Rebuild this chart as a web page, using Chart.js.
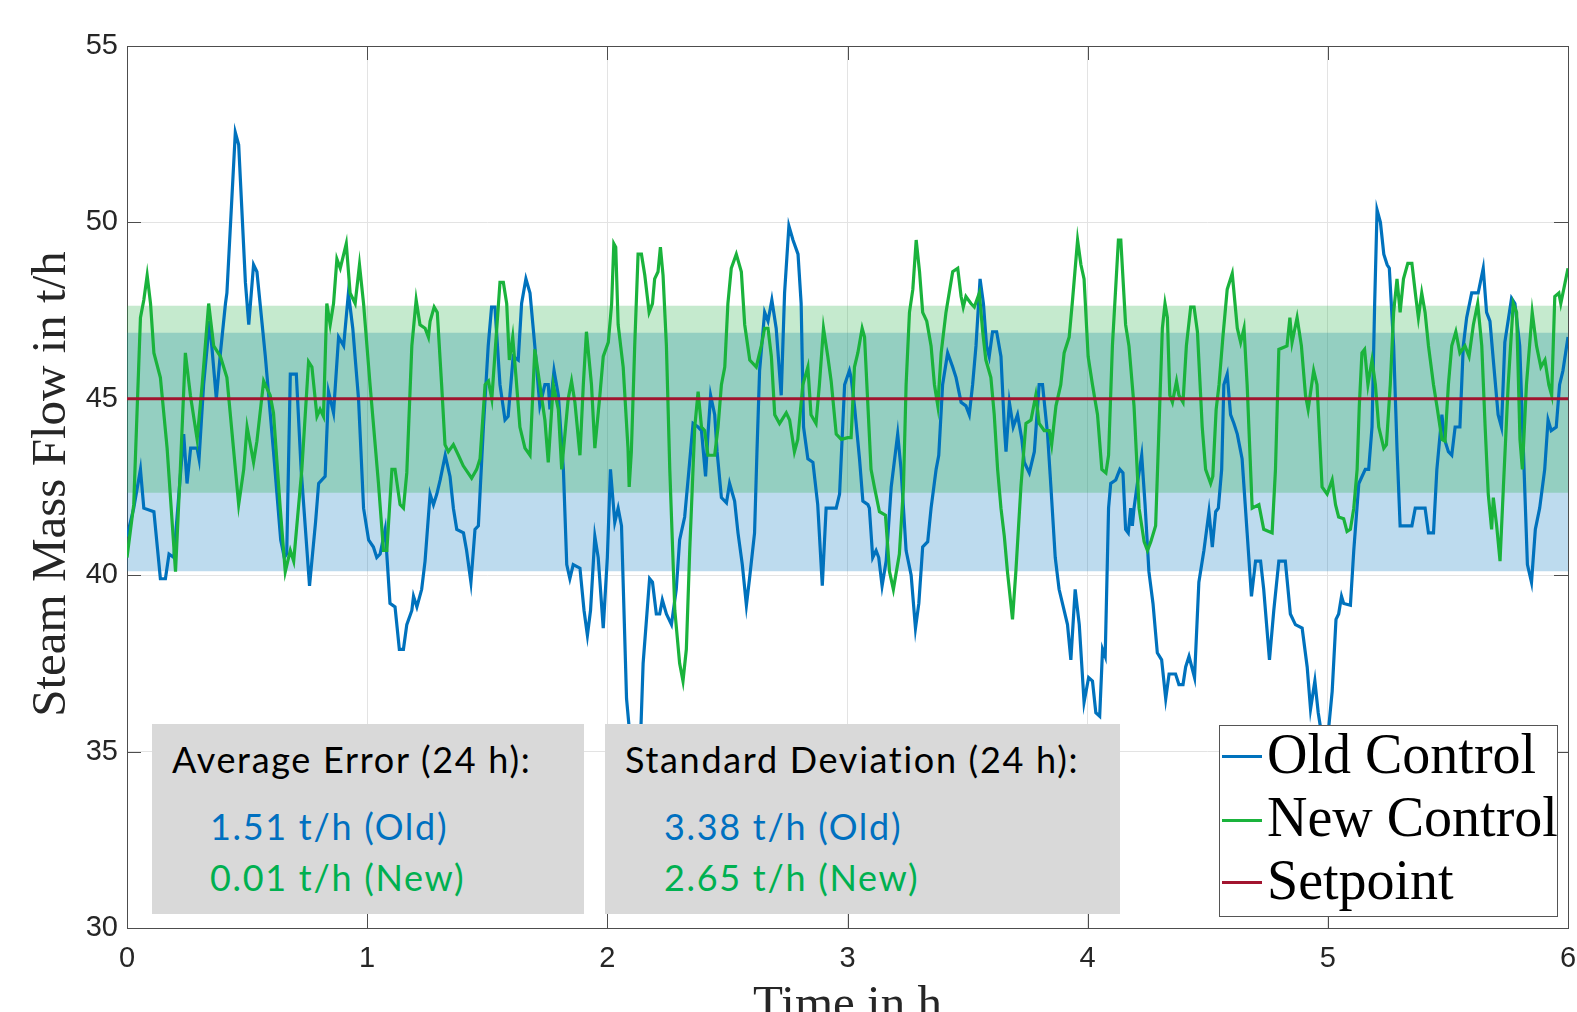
<!DOCTYPE html>
<html>
<head>
<meta charset="utf-8">
<title>Steam Mass Flow</title>
<script src="https://cdn.jsdelivr.net/npm/chart.js@4.4.1/dist/chart.umd.min.js"></script>
<style>
  html, body { margin: 0; padding: 0; background: #fff; overflow: hidden; }
  #wrap { position: relative; width: 1577px; height: 1012px; }
  .statbox { position: absolute; background: #d9d9d9; font-family: Lato, sans-serif; font-size: 36px; letter-spacing: 1.7px; }
  .statbox div { position: absolute; white-space: nowrap; line-height: 43px; }
  #legend { position: absolute; left: 1219px; top: 725px; width: 339px; height: 192px; box-sizing: border-box;
            border: 1px solid #555; background: #fff; font-family: "Liberation Serif", serif; font-size: 56px; color: #000; }
  #legend .txt { position: absolute; left: 47px; line-height: 62px; white-space: nowrap; }
  #legend .swatch { position: absolute; left: 2px; width: 40px; height: 3px; }
</style>
</head>
<body>
<div id="wrap">
  <canvas id="chart"></canvas>

  <div class="statbox" style="left:152px; top:724px; width:432px; height:190px;">
    <div style="left:20px; top:14px; color:#000;">Average Error (24 h):</div>
    <div style="left:58px; top:81px; color:#0070C0;">1.51 t/h (Old)</div>
    <div style="left:58px; top:132px; color:#00B050;">0.01 t/h (New)</div>
  </div>
  <div class="statbox" style="left:605px; top:724px; width:515px; height:190px;">
    <div style="left:20px; top:14px; color:#000;">Standard Deviation (24 h):</div>
    <div style="left:59px; top:81px; color:#0070C0;">3.38 t/h (Old)</div>
    <div style="left:59px; top:132px; color:#00B050;">2.65 t/h (New)</div>
  </div>

  <div id="legend">
    <div class="swatch" style="top:29px; background:#0072BD;"></div>
    <div class="txt" style="top:-3px;">Old Control</div>
    <div class="swatch" style="top:93px; background:#1AB33C;"></div>
    <div class="txt" style="top:60px;">New Control</div>
    <div class="swatch" style="top:155px; background:#A2142F;"></div>
    <div class="txt" style="top:123px;">Setpoint</div>
  </div>
</div>

<script>
// time in h, steam mass flow in t/h
const oldControl = [
  [0,41.1],[0.028,41.9],[0.056,43.0],[0.07,41.9],[0.112,41.8],[0.139,39.9],[0.16,39.9],[0.175,40.6],[0.195,40.5],
  [0.236,44.0],[0.25,42.6],[0.265,43.6],[0.292,43.6],[0.3,43.3],[0.319,45.4],[0.344,47.2],[0.372,45.0],[0.389,46.3],
  [0.41,47.7],[0.416,48.0],[0.451,52.55],[0.465,52.2],[0.493,48.3],[0.507,47.1],[0.527,48.8],[0.541,48.6],[0.576,46.2],
  [0.61,43.5],[0.64,41.0],[0.655,40.5],[0.665,40.6],[0.68,45.7],[0.705,45.7],[0.725,43.0],[0.76,39.7],[0.785,41.5],
  [0.798,42.6],[0.825,42.8],[0.839,45.2],[0.86,44.6],[0.881,46.75],[0.902,46.5],[0.922,48.0],[0.94,47.0],[0.964,45.0],
  [0.985,41.9],[1.006,41.0],[1.026,40.8],[1.04,40.5],[1.054,40.6],[1.075,41.3],[1.095,39.2],[1.116,39.1],[1.134,37.9],
  [1.151,37.9],[1.165,38.6],[1.186,39.0],[1.193,39.4],[1.207,39.1],[1.227,39.6],[1.241,40.4],[1.262,42.3],[1.276,42.0],
  [1.29,42.3],[1.304,42.7],[1.325,43.4],[1.345,42.8],[1.359,41.9],[1.373,41.3],[1.401,41.2],[1.414,40.7],[1.432,39.8],
  [1.449,41.3],[1.463,41.4],[1.484,44.2],[1.504,46.5],[1.518,47.6],[1.532,47.6],[1.553,45.4],[1.574,44.4],[1.587,44.5],
  [1.608,46.2],[1.629,46.1],[1.643,47.7],[1.661,48.4],[1.678,48.0],[1.698,46.5],[1.719,44.8],[1.74,45.4],[1.754,45.4],
  [1.761,44.7],[1.778,45.8],[1.796,45.1],[1.817,43.0],[1.831,40.3],[1.844,39.9],[1.858,40.3],[1.886,40.2],[1.903,39.0],
  [1.917,38.3],[1.93,39.0],[1.948,41.1],[1.962,40.5],[1.983,38.5],[2.0,40.5],[2.013,43.0],[2.031,41.5],[2.045,41.9],
  [2.059,41.4],[2.08,36.5],[2.1,35.0],[2.121,34.8],[2.14,35.7],[2.149,37.5],[2.176,39.9],[2.188,39.8],[2.204,38.9],
  [2.218,38.9],[2.229,39.3],[2.246,38.9],[2.267,38.6],[2.287,39.6],[2.301,41.0],[2.322,41.65],[2.34,43.0],[2.357,44.3],
  [2.378,44.2],[2.392,44.1],[2.409,42.8],[2.419,44.0],[2.43,45.1],[2.447,44.55],[2.457,43.5],[2.475,42.2],[2.496,42.05],
  [2.509,42.6],[2.53,42.1],[2.544,41.2],[2.562,40.3],[2.579,39.15],[2.592,39.9],[2.613,41.2],[2.623,43.5],[2.634,45.8],
  [2.655,47.45],[2.669,47.2],[2.685,47.8],[2.703,47.0],[2.724,45.1],[2.738,48.0],[2.756,49.9],[2.773,49.5],[2.794,49.1],
  [2.807,47.7],[2.817,44.2],[2.835,43.3],[2.856,43.2],[2.876,42.0],[2.895,39.7],[2.911,41.9],[2.953,41.9],[2.967,42.3],
  [2.988,45.4],[3.008,45.8],[3.015,45.6],[3.029,44.8],[3.05,43.3],[3.064,42.1],[3.085,42.0],[3.091,41.9],[3.105,40.5],
  [3.119,40.7],[3.13,40.5],[3.144,39.7],[3.161,40.4],[3.182,42.5],[3.209,44.0],[3.223,43.0],[3.244,40.7],[3.265,40.0],
  [3.283,38.5],[3.297,39.2],[3.313,40.8],[3.334,40.95],[3.348,41.9],[3.369,43.0],[3.38,43.4],[3.396,45.4],[3.417,46.3],
  [3.438,45.9],[3.452,45.6],[3.473,44.9],[3.493,44.8],[3.507,44.55],[3.521,45.4],[3.535,46.5],[3.552,48.4],[3.566,47.7],
  [3.579,46.5],[3.59,46.2],[3.604,46.9],[3.621,46.9],[3.639,46.2],[3.653,44.2],[3.66,43.5],[3.674,44.9],[3.69,44.2],
  [3.708,44.55],[3.726,43.85],[3.736,43.2],[3.757,42.9],[3.778,43.5],[3.798,45.4],[3.812,45.4],[3.833,44.0],[3.847,42.5],
  [3.865,40.5],[3.881,39.6],[3.902,39.0],[3.916,38.6],[3.93,37.6],[3.948,39.6],[3.965,38.6],[3.985,36.4],[4.004,37.1],
  [4.02,37.0],[4.034,36.1],[4.05,36.0],[4.062,37.9],[4.073,37.7],[4.087,41.9],[4.096,42.6],[4.117,42.7],[4.134,43.0],
  [4.147,42.9],[4.158,41.3],[4.169,41.2],[4.179,41.9],[4.186,41.4],[4.193,41.9],[4.207,42.6],[4.225,43.4],[4.239,42.0],
  [4.255,40.1],[4.272,39.2],[4.29,37.8],[4.308,37.6],[4.325,36.5],[4.339,37.2],[4.366,37.2],[4.38,36.9],[4.397,36.9],
  [4.408,37.4],[4.422,37.7],[4.445,37.1],[4.463,39.8],[4.484,40.7],[4.505,41.8],[4.519,40.8],[4.533,41.8],[4.544,41.9],
  [4.558,43.0],[4.567,45.4],[4.581,45.7],[4.595,44.55],[4.609,44.3],[4.623,44.0],[4.643,43.3],[4.664,41.2],[4.682,39.4],
  [4.699,40.4],[4.72,40.4],[4.733,39.6],[4.757,37.6],[4.775,39.0],[4.796,40.4],[4.823,40.4],[4.844,38.9],[4.865,38.6],
  [4.893,38.5],[4.914,37.4],[4.928,36.2],[4.946,37.0],[4.96,36.1],[4.976,35.4],[4.99,35.0],[5.004,35.7],[5.018,36.7],
  [5.034,38.75],[5.045,38.9],[5.057,39.4],[5.066,39.2],[5.094,39.15],[5.108,40.7],[5.129,42.6],[5.156,43.0],[5.17,43.0],
  [5.184,44.2],[5.195,47.7],[5.205,50.35],[5.219,50.0],[5.233,49.1],[5.247,48.8],[5.256,48.7],[5.274,46.5],[5.288,43.6],
  [5.301,41.4],[5.35,41.4],[5.364,41.9],[5.405,41.9],[5.419,41.2],[5.44,41.2],[5.454,43.0],[5.475,44.55],[5.486,43.85],
  [5.502,43.5],[5.516,43.4],[5.53,44.2],[5.55,44.2],[5.564,46.5],[5.578,47.3],[5.599,48.0],[5.626,48.0],[5.647,48.7],
  [5.661,47.45],[5.675,47.2],[5.689,46.1],[5.709,44.55],[5.723,44.2],[5.737,46.6],[5.765,47.85],[5.779,47.7],[5.799,46.5],
  [5.817,43.0],[5.831,40.3],[5.848,39.8],[5.864,41.3],[5.882,41.9],[5.903,43.0],[5.917,44.4],[5.93,44.1],[5.951,44.2],
  [5.965,45.4],[5.979,45.8],[6.0,46.75]
];

const newControl = [
  [0,40.5],[0.028,42.0],[0.056,47.3],[0.07,47.8],[0.084,48.5],[0.098,47.7],[0.112,46.3],[0.139,45.6],[0.167,43.6],
  [0.202,40.1],[0.222,43.0],[0.243,46.3],[0.264,45.1],[0.292,43.85],[0.313,45.4],[0.34,47.7],[0.361,46.5],[0.389,46.2],
  [0.416,45.6],[0.465,42.0],[0.486,43.0],[0.5,44.2],[0.527,43.2],[0.541,43.8],[0.569,45.5],[0.596,45.1],[0.61,44.6],
  [0.638,41.9],[0.659,40.1],[0.68,40.7],[0.694,40.4],[0.728,43.0],[0.756,46.05],[0.77,45.9],[0.791,44.5],[0.804,44.7],
  [0.818,44.5],[0.832,47.7],[0.846,47.1],[0.86,47.7],[0.874,48.96],[0.888,48.7],[0.913,49.4],[0.929,48.0],[0.95,47.7],
  [0.968,48.8],[0.985,47.7],[1.012,45.4],[1.047,42.6],[1.068,40.7],[1.082,40.7],[1.103,43.0],[1.116,43.0],[1.137,42.0],
  [1.151,41.9],[1.165,42.9],[1.186,46.5],[1.204,47.8],[1.22,47.1],[1.241,47.0],[1.255,46.75],[1.262,47.2],[1.279,47.6],
  [1.292,47.45],[1.31,45.4],[1.324,43.7],[1.338,43.5],[1.359,43.7],[1.38,43.4],[1.4,43.1],[1.435,42.75],[1.456,43.0],
  [1.47,43.3],[1.491,45.4],[1.505,45.5],[1.519,45.0],[1.553,48.3],[1.567,48.3],[1.581,47.7],[1.592,46.1],[1.606,46.75],
  [1.62,45.6],[1.636,44.2],[1.657,43.6],[1.678,43.4],[1.698,46.4],[1.719,45.4],[1.74,44.4],[1.754,43.2],[1.775,45.4],
  [1.796,44.7],[1.81,43.0],[1.837,45.0],[1.851,45.5],[1.865,44.9],[1.886,43.4],[1.9,45.4],[1.913,46.9],[1.934,45.4],
  [1.948,43.6],[1.969,45.1],[1.983,46.2],[2.004,46.6],[2.018,47.7],[2.027,49.4],[2.035,49.3],[2.045,47.1],[2.066,45.9],
  [2.086,43.6],[2.091,42.5],[2.1,43.5],[2.114,46.5],[2.128,49.1],[2.142,49.1],[2.156,48.5],[2.174,47.45],[2.188,47.7],
  [2.197,48.4],[2.211,48.6],[2.221,49.3],[2.232,48.5],[2.246,46.5],[2.26,43.0],[2.281,39.0],[2.301,37.5],[2.315,37.0],
  [2.329,37.9],[2.343,40.7],[2.364,44.2],[2.378,45.2],[2.392,44.2],[2.405,44.1],[2.419,43.4],[2.447,43.4],[2.461,44.2],
  [2.475,45.4],[2.489,45.9],[2.502,47.7],[2.516,48.7],[2.537,49.1],[2.558,48.6],[2.572,47.1],[2.593,46.1],[2.62,45.9],
  [2.641,46.5],[2.655,47.0],[2.669,47.0],[2.683,46.2],[2.697,44.55],[2.717,44.3],[2.745,44.6],[2.759,44.4],[2.779,43.5],
  [2.793,43.85],[2.814,45.4],[2.835,45.9],[2.848,44.55],[2.869,44.3],[2.883,45.4],[2.9,47.0],[2.918,46.2],[2.932,45.5],
  [2.953,44.0],[2.974,43.85],[3.001,43.9],[3.015,43.9],[3.029,45.9],[3.043,46.3],[3.061,47.0],[3.071,46.75],[3.085,44.8],
  [3.098,43.0],[3.112,42.5],[3.133,41.8],[3.158,41.7],[3.175,40.1],[3.191,39.6],[3.216,40.6],[3.233,42.5],[3.244,45.4],
  [3.258,47.45],[3.272,48.1],[3.286,49.5],[3.3,48.6],[3.313,47.45],[3.33,47.2],[3.348,46.5],[3.362,45.4],[3.376,44.8],
  [3.39,46.3],[3.41,47.45],[3.438,48.6],[3.459,48.7],[3.473,47.9],[3.482,47.6],[3.493,47.9],[3.514,47.7],[3.528,47.6],
  [3.549,48.0],[3.563,46.9],[3.576,46.1],[3.597,45.6],[3.611,44.55],[3.625,43.0],[3.639,41.9],[3.653,41.1],[3.666,40.1],
  [3.687,38.75],[3.701,40.1],[3.722,42.5],[3.743,44.3],[3.764,44.4],[3.784,45.1],[3.798,44.3],[3.819,44.1],[3.84,44.1],
  [3.85,43.7],[3.868,44.8],[3.888,45.4],[3.902,46.3],[3.923,46.75],[3.937,47.8],[3.958,49.5],[3.972,48.8],[3.985,48.4],
  [4.002,46.2],[4.02,45.4],[4.041,44.55],[4.059,43.0],[4.076,42.9],[4.087,43.4],[4.103,46.5],[4.128,49.5],[4.138,49.5],
  [4.158,47.1],[4.172,46.5],[4.193,44.8],[4.214,41.9],[4.235,40.95],[4.249,40.7],[4.263,40.95],[4.283,41.4],[4.297,44.2],
  [4.311,47.0],[4.322,47.7],[4.332,47.3],[4.342,45.1],[4.353,44.9],[4.37,45.5],[4.38,45.1],[4.397,44.9],[4.411,46.5],
  [4.429,47.6],[4.443,47.6],[4.457,46.9],[4.477,44.2],[4.491,43.0],[4.512,42.6],[4.521,42.8],[4.535,44.7],[4.547,45.4],
  [4.563,46.75],[4.581,48.1],[4.602,48.55],[4.623,47.0],[4.637,46.6],[4.651,47.0],[4.664,45.4],[4.685,41.9],[4.713,42.0],
  [4.733,41.3],[4.768,41.2],[4.782,43.0],[4.796,46.4],[4.83,46.5],[4.842,47.3],[4.851,46.6],[4.872,47.3],[4.89,46.5],
  [4.907,45.1],[4.918,44.7],[4.941,45.8],[4.955,45.4],[4.976,42.5],[4.997,42.3],[5.018,42.7],[5.032,42.0],[5.045,41.65],
  [5.066,41.6],[5.08,41.24],[5.094,41.3],[5.108,41.9],[5.122,43.0],[5.131,44.8],[5.142,46.3],[5.153,46.4],[5.167,45.4],
  [5.184,46.1],[5.198,45.4],[5.212,44.2],[5.233,43.6],[5.244,43.7],[5.26,45.4],[5.274,47.45],[5.288,48.4],[5.301,47.45],
  [5.315,48.4],[5.333,48.84],[5.35,48.84],[5.366,47.9],[5.377,47.3],[5.391,48.0],[5.405,47.45],[5.419,46.5],[5.44,45.4],
  [5.454,44.8],[5.475,43.85],[5.488,43.8],[5.502,45.4],[5.516,46.5],[5.533,46.9],[5.55,46.3],[5.571,46.5],[5.588,46.2],
  [5.606,47.1],[5.624,47.7],[5.641,46.5],[5.655,44.2],[5.668,42.3],[5.682,41.3],[5.689,42.2],[5.703,41.4],[5.717,40.4],
  [5.731,42.5],[5.751,45.4],[5.772,47.7],[5.786,47.45],[5.8,43.85],[5.81,43.0],[5.827,45.4],[5.851,47.45],[5.869,46.5],
  [5.887,45.9],[5.904,46.1],[5.92,45.4],[5.932,45.1],[5.945,47.9],[5.962,48.0],[5.97,47.7],[6.0,48.7]
];

const setpoint = [[0, 45], [6, 45]];
// mean +/- standard deviation bands (low, high)
const bandOld = [40.11, 46.87];
const bandNew = [42.34, 47.64];

const xTicks = [0, 1, 2, 3, 4, 5, 6];
const yTicks = [30, 35, 40, 45, 50, 55];

const toXY = arr => arr.map(p => ({x: p[0], y: p[1]}));
const flat = (v) => [{x: xTicks[0], y: v}, {x: xTicks[xTicks.length - 1], y: v}];

// box, inward ticks and axis titles like the matlab figure
const matlabAxes = {
  id: 'matlabAxes',
  beforeDatasetsDraw(chart) {
    const {ctx, chartArea: a, scales: {x, y}} = chart;
    ctx.save();
    ctx.strokeStyle = '#4d4d4d';
    ctx.lineWidth = 1;
    ctx.beginPath();
    xTicks.forEach(t => {
      const px = Math.round(x.getPixelForValue(t)) + 0.5;
      ctx.moveTo(px, a.bottom); ctx.lineTo(px, a.bottom - 14);
      ctx.moveTo(px, a.top); ctx.lineTo(px, a.top + 14);
    });
    yTicks.forEach(t => {
      const py = Math.round(y.getPixelForValue(t)) + 0.5;
      ctx.moveTo(a.left, py); ctx.lineTo(a.left + 14, py);
      ctx.moveTo(a.right, py); ctx.lineTo(a.right - 14, py);
    });
    ctx.stroke();
    ctx.strokeRect(Math.round(a.left) + 0.5, Math.round(a.top) + 0.5, Math.round(a.width), Math.round(a.height));
    ctx.restore();
  },
  afterDraw(chart) {
    const {ctx, chartArea: a} = chart;
    ctx.save();
    ctx.fillStyle = '#262626';
    ctx.font = '49px "Liberation Serif"';
    ctx.textAlign = 'center';
    ctx.textBaseline = 'alphabetic';
    ctx.fillText('Time in h', (a.left + a.right) / 2, 1019);
    ctx.translate(65, (a.top + a.bottom) / 2 - 3);
    ctx.rotate(-Math.PI / 2);
    ctx.fillText('Steam Mass Flow in t/h', 0, 0);
    ctx.restore();
  }
};

const line = (label, data, color, width, order) => ({
  label, data, borderColor: color, borderWidth: width,
  pointRadius: 0, tension: 0, fill: false, order
});

new Chart(document.getElementById('chart'), {
  type: 'line',
  data: {
    datasets: [
      line('Setpoint', toXY(setpoint), '#A2142F', 3, 0),
      line('New Control', toXY(newControl), '#1AB33C', 3.2, 1),
      line('Old Control', toXY(oldControl), '#0072BD', 3.2, 2),
      {
        label: 'New band', data: flat(bandNew[1]), borderWidth: 0, pointRadius: 0,
        fill: {value: bandNew[0]}, backgroundColor: 'rgba(25,170,60,0.25)', order: 3
      },
      {
        label: 'Old band', data: flat(bandOld[1]), borderWidth: 0, pointRadius: 0,
        fill: {value: bandOld[0]}, backgroundColor: 'rgba(0,114,189,0.26)', order: 4
      }
    ]
  },
  options: {
    responsive: true,
    maintainAspectRatio: false,
    animation: false,
    layout: {padding: {top: 46, right: 9, left: 0, bottom: 0}},
    plugins: {
      legend: {display: false},
      tooltip: {enabled: false}
    },
    scales: {
      x: {
        type: 'linear', min: 0, max: 6,
        afterFit: scale => { scale.height = 84; scale.paddingLeft = 0; scale.paddingRight = 0; },
        afterBuildTicks: scale => { scale.ticks = xTicks.map(v => ({value: v})); },
        ticks: {
          autoSkip: false, maxRotation: 0, padding: 14, color: '#262626',
          font: {family: 'Liberation Sans', size: 29}
        },
        grid: {color: '#e3e3e3', drawTicks: false},
        border: {display: false}
      },
      y: {
        min: 30, max: 55,
        afterFit: scale => { scale.width = 127; scale.paddingTop = 0; scale.paddingBottom = 0; },
        afterBuildTicks: scale => { scale.ticks = yTicks.map(v => ({value: v})); },
        ticks: {
          padding: 9, color: '#262626',
          font: {family: 'Liberation Sans', size: 29}
        },
        grid: {color: '#e3e3e3', drawTicks: false},
        border: {display: false}
      }
    }
  },
  plugins: [matlabAxes]
});
</script>
</body>
</html>
